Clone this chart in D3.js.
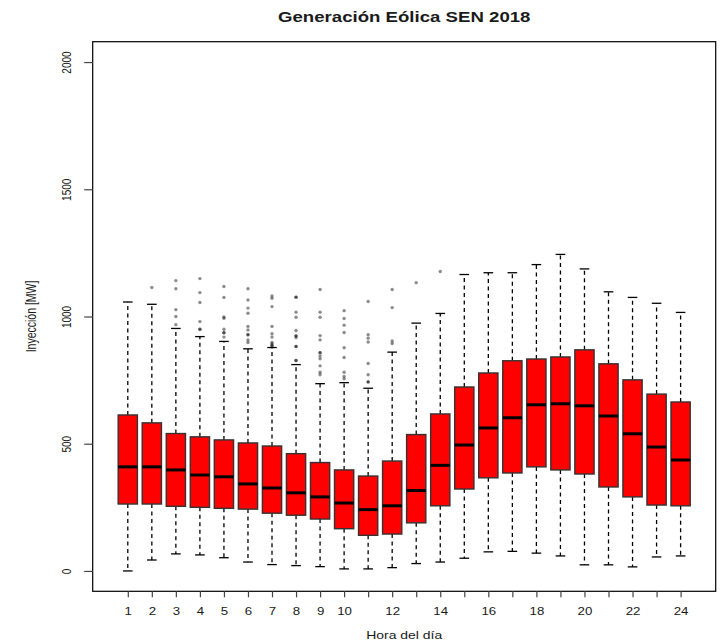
<!DOCTYPE html>
<html>
<head>
<meta charset="utf-8">
<script src="https://cdn.jsdelivr.net/npm/d3@7"></script>
<style>
  body { margin: 0; background: #fff; }
  text { font-family: "Liberation Sans", Arial, sans-serif; fill: #1a1a1a; }
</style>
</head>
<body>
<svg id="chart" width="721" height="644"></svg>
<script>
// ---- data ----
const hours = d3.range(1, 25);
const whiskerLow  = [0, 43, 67, 63, 52, 35, 25, 21, 17, 8, 8, 13, 29, 35, 50, 75, 77, 70, 59, 24, 24, 16, 55, 59];
const q1          = [263, 263, 254, 250, 246, 243, 227, 219, 204, 166, 140, 145, 189, 256, 322, 366, 385, 409, 397, 381, 330, 291, 259, 256];
const median      = [409, 409, 397, 377, 370, 342, 326, 307, 291, 267, 241, 256, 316, 415, 495, 562, 602, 653, 657, 649, 609, 539, 487, 436];
const q3          = [613, 582, 540, 527, 515, 503, 491, 461, 426, 397, 373, 432, 536, 617, 723, 778, 826, 833, 841, 869, 814, 751, 695, 664];
const whiskerHigh = [1057, 1048, 953, 921, 902, 873, 878, 811, 736, 740, 718, 860, 974, 1012, 1165, 1172, 1172, 1204, 1244, 1187, 1097, 1075, 1052, 1016];
const outliers = [
  [],
  [1114],
  [1141, 1109, 1027, 1000, 968],
  [1149, 1094, 1055, 980, 950, 950],
  [1118, 1075, 998, 993, 950, 936, 936, 919],
  [1109, 1065, 1033, 1013, 961, 947, 928, 928, 908, 898],
  [1081, 1072, 1039, 961, 932, 919, 898, 892, 885, 885],
  [1076, 1076, 1017, 997, 945, 924, 924, 917, 882, 882, 827, 827],
  [1106, 1017, 997, 925, 908, 858, 858, 845, 834, 806, 781, 771],
  [1023, 992, 966, 937, 877, 839, 781, 764, 755],
  [1059, 928, 915, 900, 815, 771, 743, 743],
  [1106, 1035, 904, 894],
  [1133],
  [1177],
  [], [], [], [], [], [], [], [], [], []
];
const yTicks = [0, 500, 1000, 1500, 2000];
const xTickLabels = ["1","2","3","4","5","6","7","8","9","10","","12","","14","","16","","18","","20","","22","","24"];
const titleText = "Generación Eólica SEN 2018";
const xTitle = "Hora del día";
const yTitle = "Inyección [MW]";

// ---- layout ----
const svg = d3.select("#chart");
const L = 92.7, R = 715.7, T = 41.7, B = 591.3;
const x = d3.scaleLinear().domain([-0.46, 25.46]).range([L, R]);
const y = d3.scaleLinear().domain([-80, 2080]).range([B, T]);
const bw = x(0.8) - x(0);
const capW = bw * 0.5;
const stretch = 1.33;

const g = svg.append("g");

// boxes
hours.forEach((h, i) => {
  const cx = x(h);
  const grp = g.append("g");
  // whiskers
  grp.append("line").attr("x1", cx).attr("x2", cx)
    .attr("y1", y(q3[i])).attr("y2", y(whiskerHigh[i]))
    .attr("stroke", "#000").attr("stroke-width", 1.3).attr("stroke-dasharray", "4,3.5");
  grp.append("line").attr("x1", cx).attr("x2", cx)
    .attr("y1", y(q1[i])).attr("y2", y(whiskerLow[i]))
    .attr("stroke", "#000").attr("stroke-width", 1.3).attr("stroke-dasharray", "4,3.5");
  // caps
  [whiskerHigh[i], whiskerLow[i]].forEach(v => {
    grp.append("line").attr("x1", cx - capW / 2).attr("x2", cx + capW / 2)
      .attr("y1", y(v)).attr("y2", y(v))
      .attr("stroke", "#000").attr("stroke-width", 1.3);
  });
  // box
  grp.append("rect").attr("x", cx - bw / 2).attr("width", bw)
    .attr("y", y(q3[i])).attr("height", y(q1[i]) - y(q3[i]))
    .attr("fill", "#ff0000").attr("stroke", "#333").attr("stroke-width", 1.4);
  // median
  grp.append("line").attr("x1", cx - bw / 2).attr("x2", cx + bw / 2)
    .attr("y1", y(median[i])).attr("y2", y(median[i]))
    .attr("stroke", "#000").attr("stroke-width", 3);
  // outliers
  grp.selectAll("circle.o").data(outliers[i]).enter().append("circle")
    .attr("class", "o").attr("cx", cx).attr("cy", d => y(d)).attr("r", 1.7)
    .attr("fill", "#000").attr("fill-opacity", 0.45);
});

// frame
svg.append("rect").attr("x", L).attr("y", T).attr("width", R - L).attr("height", B - T)
  .attr("fill", "none").attr("stroke", "#000").attr("stroke-width", 1.2);

// y axis
const yAxis = svg.append("g").attr("transform", `translate(${L},0)`)
  .call(d3.axisLeft(y).tickValues(yTicks).tickSize(8.5).tickPadding(0).tickFormat(d3.format("d")));
yAxis.select(".domain").remove();
yAxis.selectAll(".tick line").attr("stroke", "#444").attr("stroke-width", 1.2);
yAxis.selectAll(".tick text")
  .attr("x", null).attr("dy", null)
  .attr("text-anchor", "middle")
  .attr("transform", `translate(-26,0) rotate(-90) scale(1,${stretch}) translate(0,3.6)`)
  .style("font-size", "10px").style("font-family", "'Liberation Sans', Arial, sans-serif");

// x axis
const xAxis = svg.append("g").attr("transform", `translate(0,${B})`)
  .call(d3.axisBottom(x).tickValues(hours).tickSize(6).tickPadding(0)
    .tickFormat((d, i) => xTickLabels[i]));
xAxis.select(".domain").remove();
xAxis.selectAll(".tick line").attr("stroke", "#444").attr("stroke-width", 1.2);
xAxis.selectAll(".tick text")
  .attr("y", null).attr("dy", null)
  .attr("transform", `translate(0,24) scale(${stretch},1)`)
  .style("font-size", "10px").style("font-family", "'Liberation Sans', Arial, sans-serif");

// titles
svg.append("text").attr("x", 0).attr("y", 0)
  .attr("transform", `translate(${(L + R) / 2},22) scale(${stretch},1)`)
  .attr("text-anchor", "middle").style("font-size", "14px").style("font-weight", "bold")
  .text(titleText);
svg.append("text")
  .attr("transform", `translate(${(L + R) / 2},639) scale(${stretch},1)`)
  .attr("text-anchor", "middle").style("font-size", "10.5px")
  .text(xTitle);
svg.append("text")
  .attr("transform", `translate(36,${(T + B) / 2}) rotate(-90) scale(1,${stretch})`)
  .attr("text-anchor", "middle").style("font-size", "10.5px")
  .text(yTitle);
</script>
</body>
</html>
